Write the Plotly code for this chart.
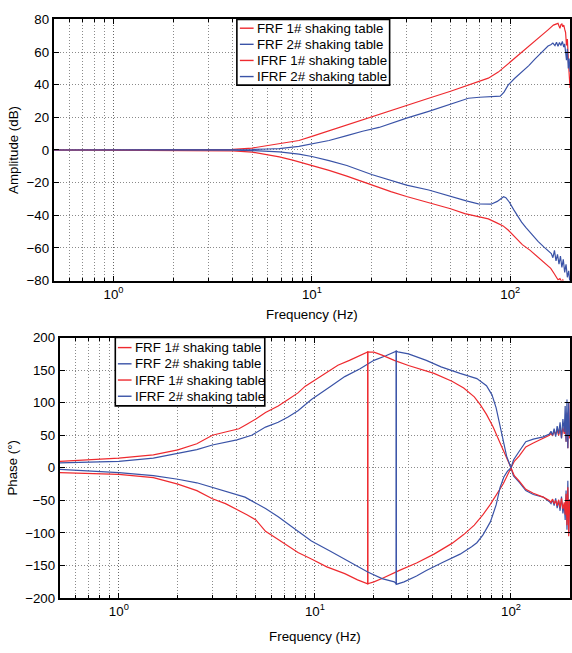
import plotly.graph_objects as go
import math

RED = '#ee2a2f'
BLUE = '#3a53a7'

# ---------------- Amplitude data (dB) ----------------
frf1_amp_f = [0.5, 0.7, 1, 1.5, 2, 3, 4, 5, 6, 6.85, 8.6, 10, 12.2, 15, 18, 21.8, 25, 30, 38.8, 50, 60, 69, 77.5, 87, 97.5, 105, 114, 124, 133, 144, 155, 165, 171, 174, 176, 178, 180, 182, 184, 186, 188, 190, 192, 194, 196, 198, 200]
frf1_amp_v = [0, 0.1, 0.2, 0.3, 0.4, 0.4, 0.4, 1.2, 2.6, 3.8, 5.8, 8.3, 11.8, 15.3, 18.6, 21.8, 24.2, 27.3, 31.7, 36, 39.3, 41.7, 44, 47.7, 52.7, 56, 59.6, 63.5, 66.6, 70, 73.6, 76.5, 77.3, 77.6, 76, 74.5, 76.8, 77.2, 75.5, 76.5, 74, 72, 64, 68, 56, 48, 38]

frf2_amp_f = [0.5, 0.7, 1, 1.5, 2, 3, 4, 5, 6, 6.85, 8.6, 10, 12.2, 15, 18, 21.8, 25, 30, 38.8, 50, 61.5, 70, 77, 84, 89, 93, 97.5, 105, 114, 124, 133, 144, 155, 160, 164, 168, 171, 174, 177, 180, 183, 186, 188, 190, 192, 194, 196, 198, 200]
frf2_amp_v = [0, 0, -0.1, 0, 0, 0, 0.1, 0.3, 0.6, 0.8, 2.2, 3.8, 5.8, 8.8, 11.5, 13.8, 16.3, 19.5, 23.7, 28, 31.7, 32.3, 32.5, 32.5, 33, 35.5, 39.7, 43.8, 47.7, 51.7, 55.7, 59.8, 63.7, 64.5, 65.5, 64, 66, 63.5, 65.8, 64, 66.5, 63, 65, 60, 55, 62, 50, 56, 48]

ifrf1_amp_f = [0.5, 1, 2, 3, 4, 5, 6, 6.85, 8, 10, 12.2, 15, 20, 25, 30, 38.8, 50, 59, 70, 77.5, 85, 92, 97.5, 105, 115, 126, 137, 149, 160, 166, 170, 174, 178, 181, 184, 187, 190, 194, 198]
ifrf1_amp_v = [0, -0.1, -0.2, -0.3, -0.5, -1.3, -2.8, -4.2, -6.2, -9.5, -12.5, -16, -21.5, -25.5, -28.5, -32.1, -36, -39, -41, -42.2, -44.5, -46.5, -49, -53, -58, -61.5, -65.5, -69.5, -72.5, -75.5, -78, -79.5, -78.8, -80.5, -79.6, -81.5, -83, -85, -88]

ifrf2_amp_f = [0.5, 1, 2, 3, 4, 5, 6, 6.85, 8.6, 10, 12.2, 15, 20, 25, 30, 38.8, 50, 60, 69, 80, 86, 90, 92.5, 95, 99, 104, 109, 114, 120, 128, 138, 148, 156, 161, 164, 167, 170, 173, 176, 179, 182, 185, 188, 191, 194, 197, 200]
ifrf2_amp_v = [0, 0, 0.1, 0, -0.1, -0.4, -0.8, -1.2, -2.5, -4, -6.5, -9.5, -15, -18.5, -21.5, -24.5, -28.5, -31.2, -33, -33.2, -31.5, -29.5, -28.6, -29.2, -32, -36.5, -40.5, -44.2, -47.5, -51.5, -56, -59.5, -62, -63.5, -66, -61.5, -68, -64, -70, -65, -72, -67, -75, -70, -78, -74, -82]

# ---------------- Phase data (deg) ----------------
frf1_ph_f = [0.5, 0.7, 1, 1.5, 2, 2.5, 3, 3.5, 4.1, 4.5, 5, 5.6, 6.5, 7.3, 8.2, 8.9, 10, 11.5, 13.1, 15, 17, 18.6, 18.6, 19.2, 20, 22, 25, 27, 33, 40.5, 50, 57.4, 65, 72, 78.5, 85, 91.5, 96, 100, 104, 110, 119, 130, 146, 157, 160, 163, 166, 169, 172, 175, 178, 181, 184, 187, 189, 191, 193, 195, 197, 199, 200]
frf1_ph_v = [10, 12, 14.9, 20, 27.5, 37, 50, 55, 60, 67, 75, 85, 95, 105, 115, 125, 135, 147, 157.5, 165, 172, 178, -178, -177, -175, -170, -162, -157.5, -146, -132.5, -116, -102.5, -88, -72, -56, -40, -24, -11, 0, 10, 18, 32, 38, 45, 50, 53, 49, 56, 51, 58, 50, 60, 46, 62, 52, 70, 40, 85, 30, 100, 45, 65]

frf2_ph_f = [0.5, 0.7, 1, 1.5, 2, 2.5, 3, 4, 4.76, 5.6, 6.5, 7.3, 8.2, 9.6, 12, 14.2, 17, 20, 23, 26, 26, 26.5, 28.5, 33, 37, 45, 55, 63, 67, 72, 78.5, 84, 88, 92, 96, 100, 103, 110, 119, 130, 146, 157, 160, 163, 166, 169, 172, 175, 178, 181, 184, 187, 189, 191, 193, 195, 197, 199, 200]
frf2_ph_v = [7.5, 8.5, 10, 15, 22.5, 28, 35, 43, 50, 62.5, 70, 78, 87.5, 105, 125, 140, 152, 165, 172, 179, -179, -178, -175, -166, -157.5, -145, -132.5, -121, -115, -103, -83, -57, -30, -14, -5, 0, -12.5, -22, -35, -41, -45, -52, -55, -49, -58, -47, -62, -50, -66, -44, -70, -56, -80, -35, -95, -20, -102, -60, -48]

ifrf1_ph_f = [0.5, 0.7, 1, 1.5, 2, 2.5, 3, 3.5, 4.1, 4.5, 5, 5.6, 6.5, 7.3, 8.2, 9.6, 11.5, 14.2, 16.5, 18.6, 18.6, 19.2, 20, 22, 25.4, 30, 40.5, 50, 57.4, 65, 69.7, 75, 81, 88, 94, 100, 104, 110, 119, 130, 146, 157, 160, 163, 166, 169, 172, 175, 178, 181, 184, 187, 189, 191, 193, 195, 197, 199, 200]
ifrf1_ph_v = [-7.5, -9, -10, -15, -25, -35, -47.5, -55, -65, -72, -80, -97.5, -110, -120, -130, -140, -152, -162.5, -172, -178, 178, 177.5, 177.5, 173, 165, 157, 145, 133, 122.5, 109, 97, 82, 63, 38, 17, 0, -12, -20, -33, -39, -45, -50, -53, -48, -55, -50, -58, -49, -61, -47, -63, -53, -72, -40, -88, -30, -105, -50, -70]

ifrf2_ph_f = [0.5, 0.7, 1, 1.5, 2, 2.5, 3, 4.4, 5.6, 6.5, 8.2, 9.6, 12, 14.2, 18.6, 22, 25.4, 26, 26, 26.5, 30, 37, 44, 55, 67, 75, 80, 84, 88, 91.5, 95, 100, 103, 110, 119, 130, 146, 157, 160, 163, 166, 169, 172, 175, 178, 181, 184, 187, 189, 191, 193, 195, 197, 199, 200]
ifrf2_ph_v = [-2.5, -5, -7.5, -12, -17.5, -23, -30, -45, -62.5, -75, -97.5, -112.5, -128, -140, -160, -170, -175, -178, 179, 178, 175, 165, 155, 145, 137, 126, 112, 92, 65, 38, 18, 0, 12, 25, 40, 44, 47.5, 52, 56, 50, 60, 48, 64, 52, 70, 45, 75, 55, 95, 40, 105, 30, 100, 50, 60]

names = ['FRF 1# shaking table', 'FRF 2# shaking table', 'IFRF 1# shaking table', 'IFRF 2# shaking table']
colors = [RED, BLUE, RED, BLUE]

W, H = 572, 653
FONT = 'Liberation Sans, Arial, Helvetica, sans-serif'
FS = 13.3


def px(x):
    return x / W


def py(y):
    return 1 - y / H


fig = go.Figure()
amp = [(frf1_amp_f, frf1_amp_v), (frf2_amp_f, frf2_amp_v), (ifrf1_amp_f, ifrf1_amp_v), (ifrf2_amp_f, ifrf2_amp_v)]
ph = [(frf1_ph_f, frf1_ph_v), (frf2_ph_f, frf2_ph_v), (ifrf1_ph_f, ifrf1_ph_v), (ifrf2_ph_f, ifrf2_ph_v)]
for i, (f, v) in enumerate(amp):
    fig.add_trace(go.Scatter(x=f, y=v, mode='lines', name=names[i], line=dict(color=colors[i], width=1.2),
                             xaxis='x', yaxis='y', showlegend=False))
for i, (f, v) in enumerate(ph):
    fig.add_trace(go.Scatter(x=f, y=v, mode='lines', name=names[i], line=dict(color=colors[i], width=1.2),
                             xaxis='x2', yaxis='y2', showlegend=False))

GRID = '#8a8a8a'
DOT = '1px,2px'
minor_vals = [0.6, 0.7, 0.8, 0.9] + [k for k in range(2, 10)] + [10 * k for k in range(2, 10)] + [200]
xcommon = dict(type='log', range=[math.log10(0.5), math.log10(200)],
               tickmode='array', tickvals=[1, 10, 100],
               ticktext=['10<sup>0</sup>', '10<sup>1</sup>', '10<sup>2</sup>'],
               ticks='inside', ticklen=5, tickwidth=1, tickcolor='black',
               showline=True, linecolor='black', linewidth=2, mirror='ticks',
               showgrid=True, gridcolor='#666666', griddash=DOT, gridwidth=1,
               minor=dict(tickmode='array', tickvals=minor_vals, ticks='inside', ticklen=3,
                          tickcolor='black', showgrid=True, gridcolor=GRID, griddash=DOT, gridwidth=1),
               zeroline=False, tickfont=dict(size=FS, color='black', family=FONT),
               title=dict(text='Frequency (Hz)', font=dict(size=FS, color='black', family=FONT), standoff=9))
ycommon = dict(ticks='inside', ticklen=5, tickcolor='black', showline=True, linecolor='black', linewidth=2,
               mirror='ticks', showgrid=True, gridcolor=GRID, griddash=DOT, gridwidth=1,
               zeroline=False, tickfont=dict(size=FS, color='black', family=FONT))

x2 = dict(xcommon)
x2['title'] = dict(text='Frequency (Hz)', font=dict(size=FS, color='black', family=FONT), standoff=14)

fig.update_layout(
    width=W, height=H, margin=dict(l=0, r=0, t=0, b=0),
    paper_bgcolor='white', plot_bgcolor='white',
    font=dict(family=FONT, size=FS, color='black'),
    showlegend=False,
    xaxis=dict(xcommon, domain=[px(54), 1.0], anchor='y'),
    yaxis=dict(ycommon, domain=[py(280), py(12.7)], anchor='x', range=[-80, 80],
               tickvals=[-80, -60, -40, -20, 0, 20, 40, 60, 80],
               title=dict(text='Amplitude (dB)', font=dict(size=FS, color='black', family=FONT), standoff=5)),
    xaxis2=dict(x2, domain=[px(60), 1.0], anchor='y2'),
    yaxis2=dict(ycommon, domain=[py(605), py(338.3)], anchor='x2', range=[-200, 200],
                tickvals=[-200, -150, -100, -50, 0, 50, 100, 150, 200],
                title=dict(text='Phase (°)', font=dict(size=FS, color='black', family=FONT), standoff=5)),
)

# ---- legends (box, line samples, labels) ----
legend_specs = [
    # box left, top, right, bottom, line x0, line x1, text x, row centers
    (237.7, 12.7, 391.0, 80.0, 240.7, 254.5, 256.0, [21.7, 38.2, 54.7, 71.2]),
    (115.7, 338.3, 265.7, 408.3, 118.3, 132.0, 133.0, [348.6, 365.2, 381.8, 398.4]),
]
shapes = []
annotations = []
for (bl, bt, br, bb, lx0, lx1, tx, rows) in legend_specs:
    shapes.append(dict(type='rect', xref='paper', yref='paper', x0=px(bl), x1=px(br), y0=py(bb), y1=py(bt),
                       line=dict(color='black', width=1.6), fillcolor='white', layer='above'))
    for k, yc in enumerate(rows):
        shapes.append(dict(type='line', xref='paper', yref='paper', x0=px(lx0), x1=px(lx1), y0=py(yc), y1=py(yc),
                           line=dict(color=colors[k], width=1.4), layer='above'))
        annotations.append(dict(xref='paper', yref='paper', x=px(tx), y=py(yc), text=names[k], showarrow=False,
                                xanchor='left', yanchor='middle', font=dict(size=FS, color='black', family=FONT)))

fig.update_layout(shapes=shapes, annotations=annotations)

fig.write_html('out.html')
